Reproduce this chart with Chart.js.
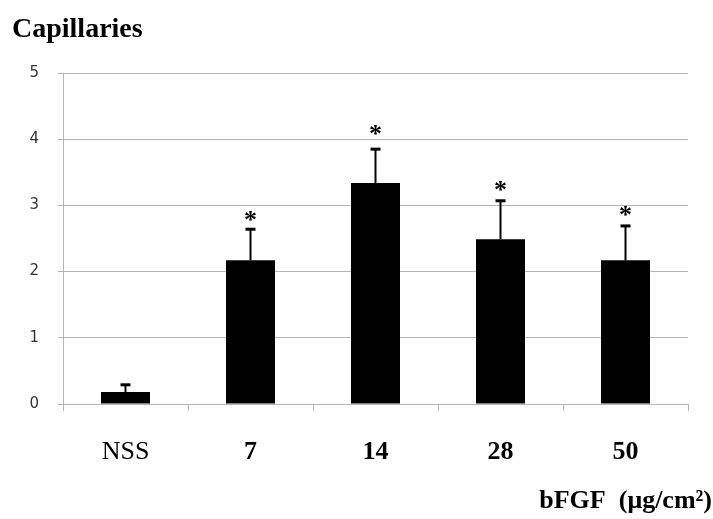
<!DOCTYPE html>
<html>
<head>
<meta charset="utf-8">
<script src="https://cdn.jsdelivr.net/npm/chart.js@4"></script>
<style>
  body { margin: 0; background: #fff; }
  #wrap { width: 713px; height: 519px; }
</style>
</head>
<body>
<div id="wrap"><canvas id="chart" width="713" height="519"></canvas></div>
<script>
// values
const categories = ["NSS", "7", "14", "28", "50"];
const means = [0.18, 2.17, 3.34, 2.49, 2.17];
const errors = [0.11, 0.47, 0.51, 0.58, 0.52];
// level (in y units) where the significance star sits, null = no star
const starLevels = [null, 2.84, 4.15, 3.30, 2.93];

const gridGray = "#b4b4b4";
const serif = '"Liberation Serif", "Times New Roman", serif';

// error bars, stars and the two free-standing titles
const extrasPlugin = {
  id: "extras",
  afterDatasetsDraw(chart) {
    const ctx = chart.ctx;
    const yScale = chart.scales.y;
    const meta = chart.getDatasetMeta(0);
    ctx.save();
    ctx.strokeStyle = "#000";
    meta.data.forEach((bar, i) => {
      const yTop = yScale.getPixelForValue(means[i] + errors[i]);
      ctx.lineWidth = 2;
      ctx.beginPath();
      ctx.moveTo(bar.x, bar.y);
      ctx.lineTo(bar.x, yTop);
      ctx.stroke();
      ctx.lineWidth = 3;
      ctx.beginPath();
      ctx.moveTo(bar.x - 5, yTop);
      ctx.lineTo(bar.x + 5, yTop);
      ctx.stroke();

      if (starLevels[i] !== null) {
        const ys = yScale.getPixelForValue(starLevels[i]);
        ctx.fillStyle = "#000";
        ctx.font = "bold 26px " + serif;
        ctx.textAlign = "center";
        ctx.textBaseline = "alphabetic";
        ctx.fillText("*", bar.x, ys + 12.5);
      }
    });
    ctx.restore();
  },
  afterDraw(chart) {
    const ctx = chart.ctx;
    ctx.save();
    ctx.fillStyle = "#000";
    ctx.textBaseline = "alphabetic";
    ctx.textAlign = "left";
    ctx.font = "bold 28px " + serif;
    ctx.fillText("Capillaries", 12, 37);
    // axis unit label, right aligned to the canvas edge
    ctx.font = "bold 26px " + serif;
    ctx.textAlign = "right";
    ctx.fillText("bFGF  (μg/cm²)", 712, 508);
    ctx.restore();
  },
};

new Chart(document.getElementById("chart"), {
  type: "bar",
  data: {
    labels: categories,
    datasets: [
      {
        data: means,
        backgroundColor: "#000",
        borderWidth: 0,
        categoryPercentage: 1,
        barPercentage: 0.392,
      },
    ],
  },
  options: {
    responsive: false,
    animation: false,
    layout: { padding: { top: 73, right: 25, left: 0, bottom: 0 } },
    plugins: {
      legend: { display: false },
      tooltip: { enabled: false },
    },
    scales: {
      x: {
        afterFit: (scale) => { scale.height = 115; },
        grid: {
          drawOnChartArea: false,
          tickLength: 7,
          color: gridGray,
          lineWidth: 1,
        },
        border: { color: gridGray, width: 1 },
        ticks: {
          color: "#000",
          padding: 26,
          font: (c) => ({
            family: serif,
            size: 26,
            weight: c.index === 0 ? "normal" : "bold",
          }),
        },
      },
      y: {
        min: 0,
        max: 5,
        afterFit: (scale) => { scale.width = 63; },
        grid: { color: gridGray, lineWidth: 1, tickLength: 5 },
        border: { color: gridGray, width: 1 },
        ticks: {
          stepSize: 1,
          color: "#333",
          padding: 19,
          font: { family: '"DejaVu Sans", sans-serif', size: 15 },
        },
      },
    },
  },
  plugins: [extrasPlugin],
});
</script>
</body>
</html>
